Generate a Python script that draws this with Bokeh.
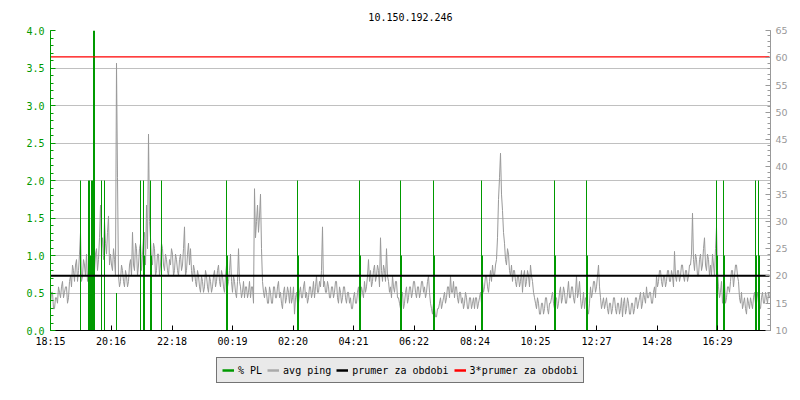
from bokeh.plotting import figure
from bokeh.layouts import column
from bokeh.models import (LinearAxis, Range1d, SingleIntervalTicker, FixedTicker,
                          Legend, LegendItem, PrintfTickFormatter)
from bokeh.embed import file_html
from bokeh.resources import INLINE
import numpy as np

host = "10.150.192.246"

# x axis: minutes since 18:15, 24 hours shown
tick_labels = ["18:15", "20:16", "22:18", "00:19", "02:20", "04:21",
               "06:22", "08:24", "10:25", "12:27", "14:28", "16:29"]
start_label = "18:15"
period_min = 1440

# avg ping (ms), one sample every 2 minutes:
# samples at 0, 4, 8, ... min
ping_ms_a = [
    15, 17, 14, 16, 18, 16, 19, 17, 18, 16,
    20, 22, 19, 23, 21, 28, 20, 22, 24, 21,
    22, 24, 21, 25, 23, 33, 27, 30, 24, 31,
    24, 21, 23, 59, 20, 19, 21, 18, 20, 19,
    23, 28, 21, 25, 22, 26, 24, 28, 33, 46,
    27, 22, 25, 21, 24, 22, 25, 21, 23, 20,
    22, 24, 21, 23, 20, 24, 22, 29, 21, 26,
    25, 19, 21, 18, 20, 17, 19, 18, 20, 17,
    19, 18, 21, 19, 22, 18, 20, 17, 22, 19,
    24, 17, 19, 16, 25, 18, 17, 16, 18, 17,
    16, 18, 36, 30, 28, 35, 19, 16, 17, 15,
    17, 15, 18, 16, 19, 17, 14, 18, 16, 17,
    18, 16, 13, 17, 15, 18, 16, 19, 17, 16,
    18, 17, 16, 20, 17, 18, 29, 19, 17, 18,
    16, 18, 17, 19, 15, 17, 16, 18, 15, 17,
    16, 14, 17, 15, 18, 16, 17, 19, 18, 23,
    21, 19, 22, 20, 21, 27, 19, 21, 25, 19,
    18, 20, 17, 19, 16, 14, 17, 15, 18, 16,
    18, 17, 19, 16, 18, 17, 19, 18, 17, 20,
    15, 13, 14, 12.5, 14, 16, 15, 17, 16, 18,
    20, 17, 16, 18, 15, 17, 16, 15, 16, 14,
    16, 15, 14, 16, 15, 17, 19, 18, 20, 17,
    21, 22, 20, 23, 34, 42.5, 32, 26, 22, 24,
    20, 19, 21, 18, 20, 19, 17, 21, 19, 20,
    22, 19, 16, 14, 15, 13, 15, 14, 16, 13,
    15, 17, 14, 16, 15, 18, 16, 17, 15, 19,
    16, 18, 15, 20, 17, 16, 15, 14, 16, 13,
    18, 17, 19, 18, 22, 16, 15, 14, 16, 13,
    15, 14, 16, 13, 15, 14, 12.5, 16, 14, 15,
    13, 15, 14, 16, 15, 17, 15, 16, 18, 16,
    17, 15, 18, 20, 19, 21, 18, 20, 19, 21,
    19, 20, 24.5, 19, 21, 20, 22, 19, 21, 20,
    22, 31.5, 21, 23, 20, 24, 22, 27, 21, 23,
    22, 24, 20, 29, 18, 17, 15, 19, 16, 18,
    19, 21, 20, 22, 19, 15, 14, 16, 13, 15,
    16, 14, 17, 15, 16, 14, 17, 15, 16, 17,
]
# samples at 2, 6, 10, ... min
ping_ms_b = [
    17, 14, 16, 15, 17, 18, 16, 18, 15, 19,
    18, 21, 22, 19, 24, 19, 23, 20, 19, 23,
    20, 22, 24, 21, 27, 25, 23, 26, 28, 22,
    22, 25, 20, 38, 18, 22, 19, 21, 18, 22,
    20, 22, 26, 20, 25, 21, 27, 22, 25, 30,
    23, 26, 20, 24, 20, 26, 22, 24, 21, 23,
    25, 20, 24, 21, 23, 21, 25, 20, 24, 22,
    21, 22, 19, 21, 18, 20, 17, 21, 18, 20,
    17, 20, 18, 21, 19, 21, 18, 20, 18, 21,
    19, 20, 17, 19, 19, 16, 19, 18, 16, 19,
    18, 15, 27, 33, 31, 25, 17, 18, 15, 18,
    15, 18, 16, 18, 16, 15, 17, 15, 18, 15,
    15, 18, 16, 15, 17, 16, 18, 16, 15, 18,
    16, 19, 18, 17, 19, 21, 18, 17, 19, 16,
    18, 16, 19, 16, 18, 15, 18, 16, 17, 15,
    14, 16, 15, 17, 15, 18, 16, 17, 20, 19,
    18, 21, 19, 22, 18, 21, 22, 19, 20, 17,
    16, 18, 19, 16, 15, 16, 14, 17, 15, 18,
    16, 19, 17, 18, 16, 19, 17, 16, 19, 17,
    14, 15, 12.5, 14, 15, 14, 16, 15, 18, 16,
    17, 19, 18, 16, 17, 15, 14, 17, 14, 16,
    14, 16, 16, 14, 16, 15, 17, 20, 18, 19,
    19, 20, 22, 27, 38, 35, 28, 23, 25, 21,
    22, 21, 19, 20, 18, 21, 20, 18, 21, 18,
    20, 17, 15, 16, 13, 15, 13, 16, 14, 15,
    16, 15, 16, 14, 17, 15, 18, 15, 17, 16,
    18, 16, 17, 16, 19, 14, 17, 16, 14, 15,
    16, 19, 17, 20, 18, 14, 16, 15, 14, 15,
    13, 16, 14, 15, 13, 16, 15, 13, 16, 13,
    15, 13, 16, 14, 16, 14, 17, 15, 16, 17,
    15, 17, 16, 18, 21, 19, 20, 18, 21, 19,
    21, 18, 20, 21, 19, 22, 20, 21, 19, 22,
    24, 23, 24, 20, 23, 21, 25, 22, 24, 20,
    20, 22, 25, 21, 16, 19, 17, 15, 18, 17,
    21, 18, 22, 20, 16, 17, 15, 14, 16, 14,
    15, 16, 15, 17, 14, 16, 15, 17, 15, 16,
]
ping_step_min = 2

# packet loss (%), non-zero 2-minute samples
pl_step_min = 2
pl_time = [60, 76, 78, 80, 82, 84, 86, 88, 102, 108, 132, 180, 186, 188,
           200, 202, 222, 352, 354, 494, 496, 618, 620, 700, 702, 766, 768,
           862, 864, 1008, 1010, 1072, 1074, 1332, 1334, 1346, 1348,
           1410, 1412, 1416, 1418]
pl_value = [2, 2, 2, 1, 2, 2, 4, 4, 2, 2, 0.5, 2, 2, 1,
            2, 1, 2, 2, 1, 2, 1, 2, 1, 2, 1, 2, 1,
            2, 1, 2, 1, 2, 1, 2, 1, 2, 1,
            2, 1, 2, 1]

avg_ping = 20.05          # prumer za obdobi (ms)
avg_factor = 3            # 3*prumer

legend_labels = ["% PL", "avg ping", "prumer za obdobi", "3*prumer za obdobi"]

GREEN = "#009900"
GRAY = "#999999"
MONO = "DejaVu Sans Mono"


def to_min(lbl):
    h, m = map(int, lbl.split(":"))
    sh, sm = map(int, start_label.split(":"))
    return ((h * 60 + m) - (sh * 60 + sm)) % 1440


tick_pos = [to_min(l) for l in tick_labels]
ping_ms = np.empty(len(ping_ms_a) + len(ping_ms_b))
ping_ms[0::2] = ping_ms_a
ping_ms[1::2] = ping_ms_b
ping_t = np.arange(len(ping_ms)) * ping_step_min

p = figure(frame_width=720, frame_height=300,
           x_range=Range1d(0, period_min), y_range=Range1d(0, 4),
           output_backend="svg", toolbar_location=None,
           min_border_left=50, min_border_right=30,
           min_border_top=30, min_border_bottom=20,
           title=host)
p.outline_line_color = None
p.background_fill_color = "white"
p.border_fill_color = "white"

p.title.align = "center"
p.title.text_font = MONO
p.title.text_font_size = "10px"
p.title.text_font_style = "normal"
p.title.text_color = "black"
p.title.standoff = 19

p.extra_y_ranges = {"ping": Range1d(10, 65)}

# left axis (% PL)
lt = SingleIntervalTicker(interval=0.5, num_minor_ticks=5)
ya = p.yaxis[0]
ya.ticker = lt
ya.formatter = PrintfTickFormatter(format="%.1f")
ya.axis_line_color = GREEN
ya.major_tick_line_color = GREEN
ya.minor_tick_line_color = GREEN
ya.major_tick_in = 5
ya.major_tick_out = 0
ya.minor_tick_in = 3
ya.minor_tick_out = 0
ya.major_label_text_color = GREEN
ya.major_label_text_font = MONO
ya.major_label_text_font_size = "10px"
ya.major_label_standoff = 6

# right axis (ping ms)
ra = LinearAxis(y_range_name="ping",
                ticker=SingleIntervalTicker(interval=5, num_minor_ticks=5))
ra.axis_line_color = GRAY
ra.major_tick_line_color = GRAY
ra.minor_tick_line_color = GRAY
ra.major_tick_in = 5
ra.major_tick_out = 0
ra.minor_tick_in = 3
ra.minor_tick_out = 0
ra.major_label_text_color = GRAY
ra.major_label_text_font = "DejaVu Sans"
ra.major_label_text_font_size = "9.5px"
ra.major_label_standoff = 5
p.add_layout(ra, "right")

# bottom axis
xa = p.xaxis[0]
xa.ticker = FixedTicker(ticks=tick_pos)
xa.major_label_overrides = {t: l for t, l in zip(tick_pos, tick_labels)}
xa.axis_line_color = "black"
xa.major_tick_line_color = "black"
xa.minor_tick_line_color = None
xa.major_tick_in = 5
xa.major_tick_out = 0
xa.major_label_text_font = MONO
xa.major_label_text_font_size = "10px"
xa.major_label_text_color = "black"
xa.major_label_standoff = 5

p.xgrid.visible = False
p.ygrid.ticker = lt
p.ygrid.grid_line_color = "#c0c0c0"
p.ygrid.grid_line_width = 1

# data
p.line(ping_t, ping_ms, y_range_name="ping", color=GRAY, line_width=1)
pl_x = np.array(pl_time)
p.segment(x0=pl_x, y0=0, x1=pl_x, y1=pl_value, line_color=GREEN, line_width=1)
p.line(ping_t, np.full(len(ping_t), avg_ping), y_range_name="ping",
       color="black", line_width=2)
p.line(ping_t, np.full(len(ping_t), avg_factor * avg_ping), y_range_name="ping",
       color="red", line_width=1.3)

# legend strip below the chart
lg = figure(width=800, height=50, output_backend="svg", toolbar_location=None,
            min_border_left=0, min_border_right=0, min_border_top=0,
            min_border_bottom=0, x_axis_type=None, y_axis_type=None,
            x_range=Range1d(0, 1), y_range=Range1d(0, 1))
lg.outline_line_color = None
lg.grid.visible = False
lg.background_fill_color = "white"
lg.border_fill_color = "white"

swatch_colors = [GREEN, "#aaaaaa", "black", "red"]
nan2 = [np.nan, np.nan]
main_r = [lg.line(nan2, nan2, color=c, line_width=2.5) for c in swatch_colors]

legend = Legend(items=[LegendItem(label=l, renderers=[r])
                       for l, r in zip(legend_labels, main_r)],
                location=(166, 17), orientation="horizontal",
                background_fill_color="#e9e9e9", background_fill_alpha=1,
                border_line_color="black", border_line_width=1,
                label_text_color="black", label_text_font=MONO,
                label_text_font_size="10px", glyph_width=12, glyph_height=14,
                label_height=14, label_standoff=4, spacing=5, padding=5,
                margin=0)
lg.add_layout(legend, "center")

open("out.html", "w").write(file_html(column(p, lg), INLINE))
